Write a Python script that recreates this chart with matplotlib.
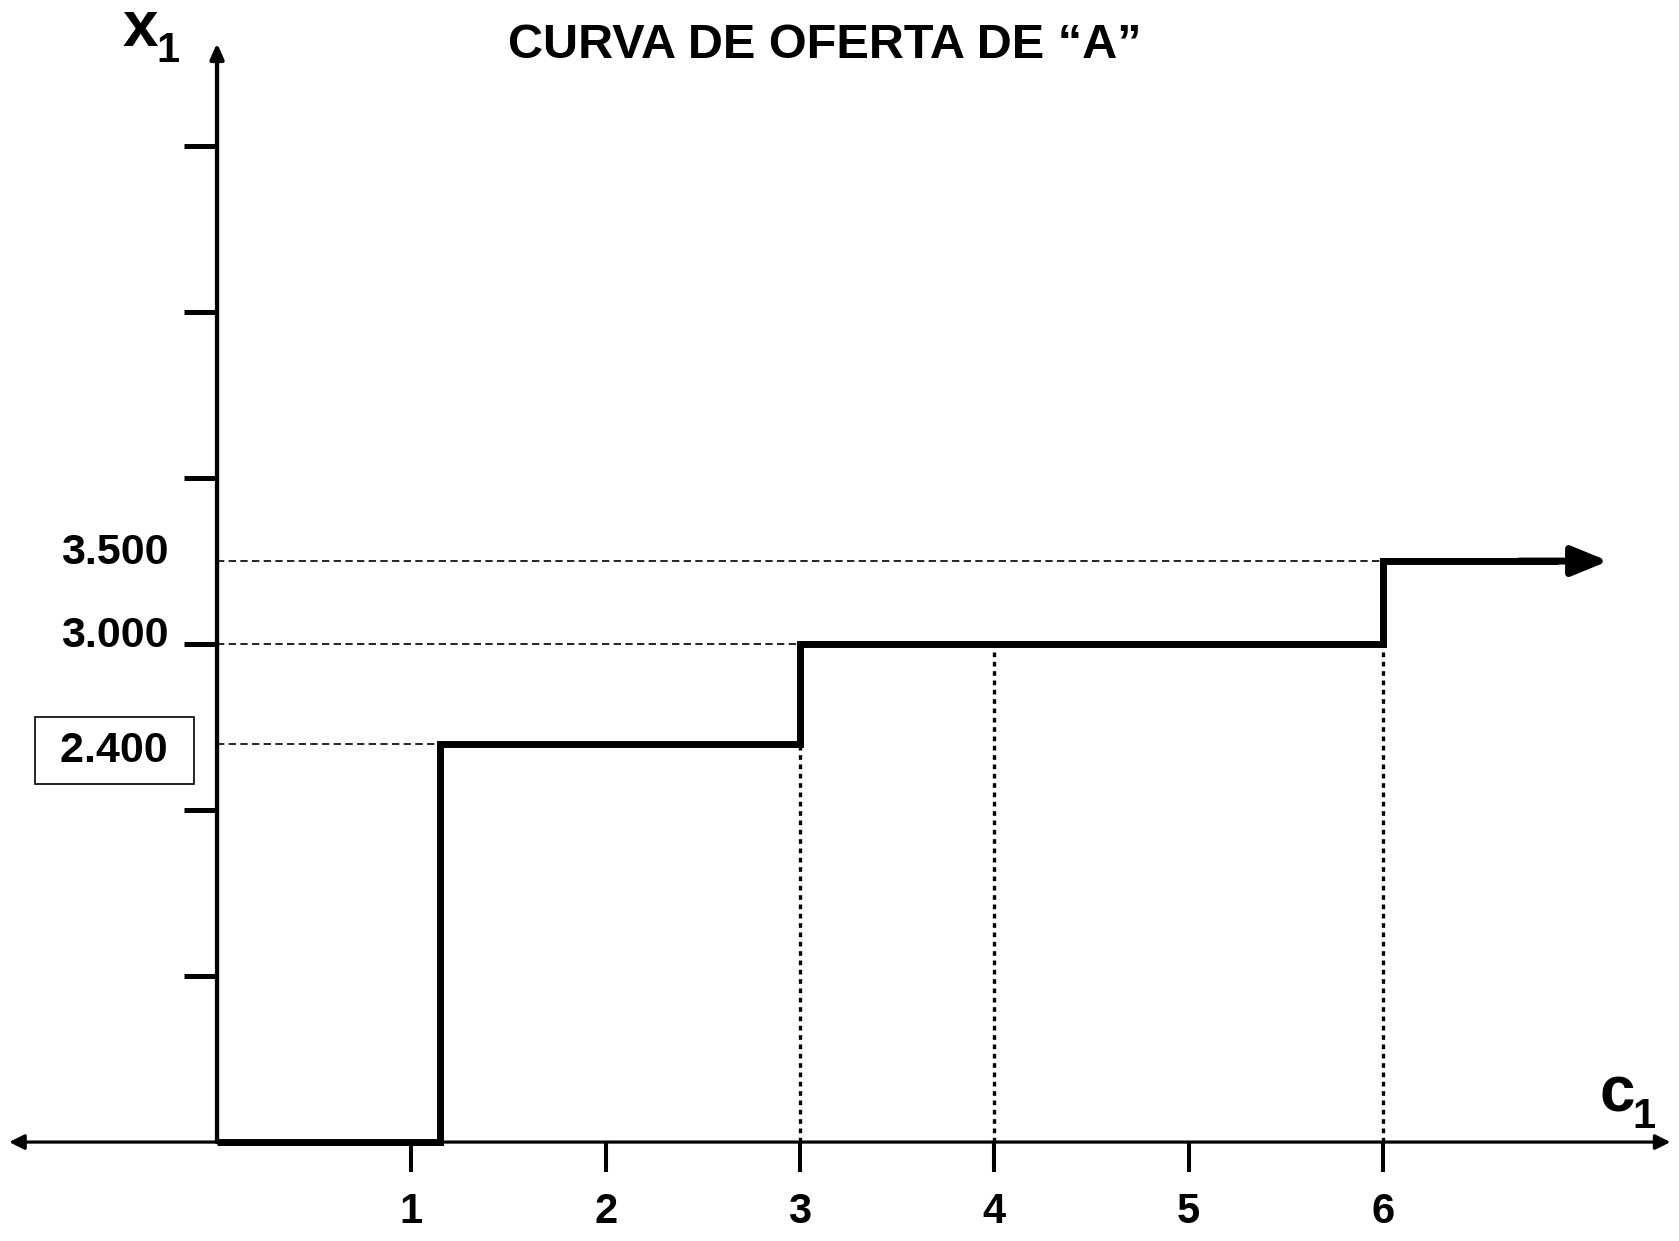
import numpy as np
import matplotlib
matplotlib.use('Agg')
import matplotlib.pyplot as plt

plt.rcParams['font.family'] = ['Liberation Sans', 'DejaVu Sans']
plt.rcParams['font.weight'] = 'bold'

# supply curve of "A": price c1 where the quantity x1 steps up
step_prices = [1.15, 3, 6]
step_qty = [2400, 3000, 3500]
curve_end = 7.16          # curve continues to the right (arrow)
guide_prices = [3, 4, 6]  # dotted verticals down to the c1 axis
x_ticks = [1, 2, 3, 4, 5, 6]
y_ticks = [1000, 2000, 3000, 4000, 5000, 6000]
qty_labels = ['3.500', '3.000', ' 2.400 ']

fig = plt.figure(figsize=(16.79, 12.41), dpi=100)
ax = fig.add_axes([0, 0, 1, 1])
ax.set_xlim(-1.117, 7.524)
ax.set_ylim(-596, 6880)

# axes through the origin, ticks only
for s in ax.spines.values():
    s.set_visible(False)
ax.spines['left'].set_position(('data', 0))
ax.spines['bottom'].set_position(('data', 0))
ax.set_xticks(x_ticks)
ax.set_yticks(y_ticks)
ax.set_yticklabels([])
ax.tick_params(axis='x', direction='out', length=21.6, width=2.9, pad=14,
               labelsize=30, color='black')
ax.tick_params(axis='y', direction='out', length=23.8, width=3.6, labelleft=False)
for lab in ax.get_xticklabels():
    lab.set_fontweight('bold')

# axis lines with arrowheads
ax.annotate('', xy=(7.48, 0), xytext=(-1.07, 0),
            arrowprops=dict(arrowstyle='<|-|>,head_length=0.9,head_width=0.45',
                            lw=2.3, color='black', shrinkA=0, shrinkB=0))
ax.annotate('', xy=(0, 6620), xytext=(0, 0),
            arrowprops=dict(arrowstyle='-|>,head_length=0.9,head_width=0.4',
                            lw=3.1, color='black', shrinkA=0, shrinkB=0))

# dashed horizontal guides from the x1 axis to each step
for c, q in zip(step_prices, step_qty):
    ax.plot([0, c], [q, q], color='black', lw=1.2, ls=(0, (4.4, 2.6)), zorder=2)

# dotted vertical guides from the curve down to the c1 axis
cs = [0] + step_prices
qs = [0] + step_qty
for g in guide_prices:
    idx = np.searchsorted(cs, g, side='left') - 1
    ax.plot([g, g], [0, qs[idx]], color='black', lw=2.4, ls=(0, (1.4, 1.4)), zorder=2)

# step curve
xs = [0]
ys = [0]
for c, q_prev, q in zip(step_prices, qs[:-1], step_qty):
    xs += [c, c]
    ys += [q_prev, q]
xs.append(6.9)
ys.append(step_qty[-1])
ax.plot(xs, ys, color='black', lw=5, solid_joinstyle='miter',
        solid_capstyle='butt', zorder=3)
ax.annotate('', xy=(curve_end, step_qty[-1]), xytext=(6.7, step_qty[-1]),
            arrowprops=dict(arrowstyle='-|>,head_length=1.1,head_width=0.45',
                            mutation_scale=20, lw=5, color='black',
                            shrinkA=0, shrinkB=0))

# quantity labels on the x1 axis
offsets = [8, 8, -7]
for txt, q, off in zip(qty_labels, step_qty[::-1], offsets):
    kw = {}
    x = -0.252
    if txt.strip() == '2.400':
        kw['bbox'] = dict(boxstyle='square,pad=0.32', fc='white', ec='black', lw=1.2)
        x = -0.19
    ax.annotate(txt, xy=(x, q), xytext=(0, off), textcoords='offset pixels',
                ha='right', va='center', fontsize=31, fontweight='bold', **kw)

# axis names and title
fig.text(0.491, 0.963, 'CURVA DE OFERTA DE \u201cA\u201d', ha='center', va='center',
         fontsize=35, fontweight='bold')
fig.text(123 / 1679, 1 - 46 / 1241, 'x', ha='left', va='baseline', fontsize=46,
         fontweight='bold')
fig.text(156 / 1679, 1 - 62 / 1241, '1', ha='left', va='baseline', fontsize=30,
         fontweight='bold')
fig.text(1599 / 1679, 1 - 1112 / 1241, 'c', ha='left', va='baseline', fontsize=46,
         fontweight='bold')
fig.text(1632 / 1679, 1 - 1128 / 1241, '1', ha='left', va='baseline', fontsize=30,
         fontweight='bold')

fig.savefig('out.png', dpi=100)
